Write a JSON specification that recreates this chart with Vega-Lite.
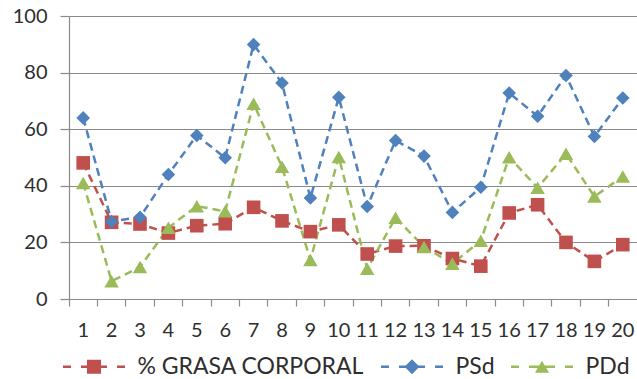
{
  "$schema": "https://vega.github.io/schema/vega-lite/v6.json",
  "width": 568,
  "height": 283,
  "autosize": {"type": "none"},
  "padding": {"left": 69, "top": 16, "right": 0, "bottom": 80},
  "background": "white",
  "config": {
    "view": {"stroke": null},
    "font": "Lato",
    "axis": {
      "labelFont": "Lato",
      "labelColor": "#2e2e2e",
      "domainColor": "#8a8a8a",
      "tickColor": "#8a8a8a",
      "gridColor": "#8a8a8a",
      "domainWidth": 1.2,
      "tickWidth": 1.2,
      "gridWidth": 1.2,
      "title": null
    }
  },
  "data": {
    "values": [
      {"n": 1, "serie": "% GRASA CORPORAL", "valor": 48.1},
      {"n": 2, "serie": "% GRASA CORPORAL", "valor": 27.1},
      {"n": 3, "serie": "% GRASA CORPORAL", "valor": 26.5},
      {"n": 4, "serie": "% GRASA CORPORAL", "valor": 23.3},
      {"n": 5, "serie": "% GRASA CORPORAL", "valor": 25.9},
      {"n": 6, "serie": "% GRASA CORPORAL", "valor": 26.6},
      {"n": 7, "serie": "% GRASA CORPORAL", "valor": 32.4},
      {"n": 8, "serie": "% GRASA CORPORAL", "valor": 27.6},
      {"n": 9, "serie": "% GRASA CORPORAL", "valor": 23.8},
      {"n": 10, "serie": "% GRASA CORPORAL", "valor": 26.2},
      {"n": 11, "serie": "% GRASA CORPORAL", "valor": 15.9},
      {"n": 12, "serie": "% GRASA CORPORAL", "valor": 18.7},
      {"n": 13, "serie": "% GRASA CORPORAL", "valor": 18.8},
      {"n": 14, "serie": "% GRASA CORPORAL", "valor": 14.3},
      {"n": 15, "serie": "% GRASA CORPORAL", "valor": 11.6},
      {"n": 16, "serie": "% GRASA CORPORAL", "valor": 30.4},
      {"n": 17, "serie": "% GRASA CORPORAL", "valor": 33.3},
      {"n": 18, "serie": "% GRASA CORPORAL", "valor": 20.0},
      {"n": 19, "serie": "% GRASA CORPORAL", "valor": 13.3},
      {"n": 20, "serie": "% GRASA CORPORAL", "valor": 19.2},
      {"n": 1, "serie": "PSd", "valor": 64.0},
      {"n": 2, "serie": "PSd", "valor": 27.4},
      {"n": 3, "serie": "PSd", "valor": 28.9},
      {"n": 4, "serie": "PSd", "valor": 44.0},
      {"n": 5, "serie": "PSd", "valor": 57.8},
      {"n": 6, "serie": "PSd", "valor": 49.9},
      {"n": 7, "serie": "PSd", "valor": 89.9},
      {"n": 8, "serie": "PSd", "valor": 76.3},
      {"n": 9, "serie": "PSd", "valor": 35.7},
      {"n": 10, "serie": "PSd", "valor": 71.3},
      {"n": 11, "serie": "PSd", "valor": 32.7},
      {"n": 12, "serie": "PSd", "valor": 56.0},
      {"n": 13, "serie": "PSd", "valor": 50.5},
      {"n": 14, "serie": "PSd", "valor": 30.6},
      {"n": 15, "serie": "PSd", "valor": 39.5},
      {"n": 16, "serie": "PSd", "valor": 72.8},
      {"n": 17, "serie": "PSd", "valor": 64.6},
      {"n": 18, "serie": "PSd", "valor": 79.0},
      {"n": 19, "serie": "PSd", "valor": 57.4},
      {"n": 20, "serie": "PSd", "valor": 71.0},
      {"n": 1, "serie": "PDd", "valor": 41.0},
      {"n": 2, "serie": "PDd", "valor": 6.3},
      {"n": 3, "serie": "PDd", "valor": 11.3},
      {"n": 4, "serie": "PDd", "valor": 25.2},
      {"n": 5, "serie": "PDd", "valor": 32.8},
      {"n": 6, "serie": "PDd", "valor": 31.0},
      {"n": 7, "serie": "PDd", "valor": 69.0},
      {"n": 8, "serie": "PDd", "valor": 46.7},
      {"n": 9, "serie": "PDd", "valor": 13.8},
      {"n": 10, "serie": "PDd", "valor": 50.2},
      {"n": 11, "serie": "PDd", "valor": 10.7},
      {"n": 12, "serie": "PDd", "valor": 28.7},
      {"n": 13, "serie": "PDd", "valor": 18.4},
      {"n": 14, "serie": "PDd", "valor": 12.5},
      {"n": 15, "serie": "PDd", "valor": 20.6},
      {"n": 16, "serie": "PDd", "valor": 50.1},
      {"n": 17, "serie": "PDd", "valor": 39.3},
      {"n": 18, "serie": "PDd", "valor": 51.3},
      {"n": 19, "serie": "PDd", "valor": 36.2},
      {"n": 20, "serie": "PDd", "valor": 43.3}
    ]
  },
  "encoding": {
    "x": {
      "field": "n",
      "type": "ordinal",
      "scale": {"type": "band", "paddingInner": 0, "paddingOuter": 0},
      "axis": {
        "labelAngle": 0,
        "labelFontSize": 20,
        "bandPosition": 0,
        "tickSize": 7,
        "labelPadding": 14,
        "grid": false
      }
    },
    "y": {
      "field": "valor",
      "type": "quantitative",
      "scale": {"domain": [0, 100], "nice": false},
      "axis": {
        "values": [0, 20, 40, 60, 80, 100],
        "labelFontSize": 20,
        "tickSize": 9,
        "labelPadding": 13,
        "grid": true,
        "domain": true
      }
    },
    "color": {
      "field": "serie",
      "type": "nominal",
      "sort": ["% GRASA CORPORAL", "PSd", "PDd"],
      "scale": {
        "domain": ["% GRASA CORPORAL", "PSd", "PDd"],
        "range": ["#C0504D", "#4F81BD", "#9BBB59"]
      },
      "legend": {
        "title": null,
        "orient": "none",
        "direction": "horizontal",
        "legendX": -6,
        "legendY": 339,
        "padding": 0,
        "labelFont": "Lato",
        "labelFontSize": 23,
        "labelColor": "#2e2e2e",
        "labelLimit": 400,
        "symbolSize": 169,
        "symbolOffset": 19.5,
        "labelOffset": 32,
        "columnPadding": 15,
        "encode": {
          "symbols": {
            "update": {
              "shape": {
                "signal": "datum.value === 'PSd' ? 'M-4.77,-0.19L-3.54,-0.19L-3.54,0.19L-4.77,0.19Z M-2,-0.19L2,-0.19L2,0.19L-2,0.19Z M3.54,-0.19L4.77,-0.19L4.77,0.19L3.54,0.19Z M0,-1.15L1.15,0L0,1.15L-1.15,0Z' : datum.value === 'PDd' ? 'M-4.77,-0.19L-3.54,-0.19L-3.54,0.19L-4.77,0.19Z M-2,-0.19L2,-0.19L2,0.19L-2,0.19Z M3.54,-0.19L4.77,-0.19L4.77,0.19L3.54,0.19Z M0,-0.92L1.08,0.92L-1.08,0.92Z' : 'M-4.77,-0.19L-3.54,-0.19L-3.54,0.19L-4.77,0.19Z M-2,-0.19L2,-0.19L2,0.19L-2,0.19Z M3.54,-0.19L4.77,-0.19L4.77,0.19L3.54,0.19Z M-1.08,-1.08L1.08,-1.08L1.08,1.08L-1.08,1.08Z'"
              },
              "size": {"value": 169},
              "fill": {"signal": "scale('color', datum.value)"},
              "stroke": {"value": "transparent"},
              "strokeWidth": {"value": 0},
              "opacity": {"value": 1}
            }
          }
        }
      }
    }
  },
  "layer": [
    {
      "mark": {"type": "line", "strokeDash": [8, 5], "strokeWidth": 2.5}
    },
    {
      "transform": [{"filter": "datum.serie === '% GRASA CORPORAL'"}],
      "mark": {"type": "point", "shape": "square", "filled": true, "opacity": 1, "size": 185}
    },
    {
      "transform": [{"filter": "datum.serie === 'PSd'"}],
      "mark": {"type": "point", "shape": "diamond", "filled": true, "opacity": 1, "size": 185}
    },
    {
      "transform": [{"filter": "datum.serie === 'PDd'"}],
      "mark": {"type": "point", "shape": "triangle-up", "filled": true, "opacity": 1, "size": 210}
    }
  ]
}
